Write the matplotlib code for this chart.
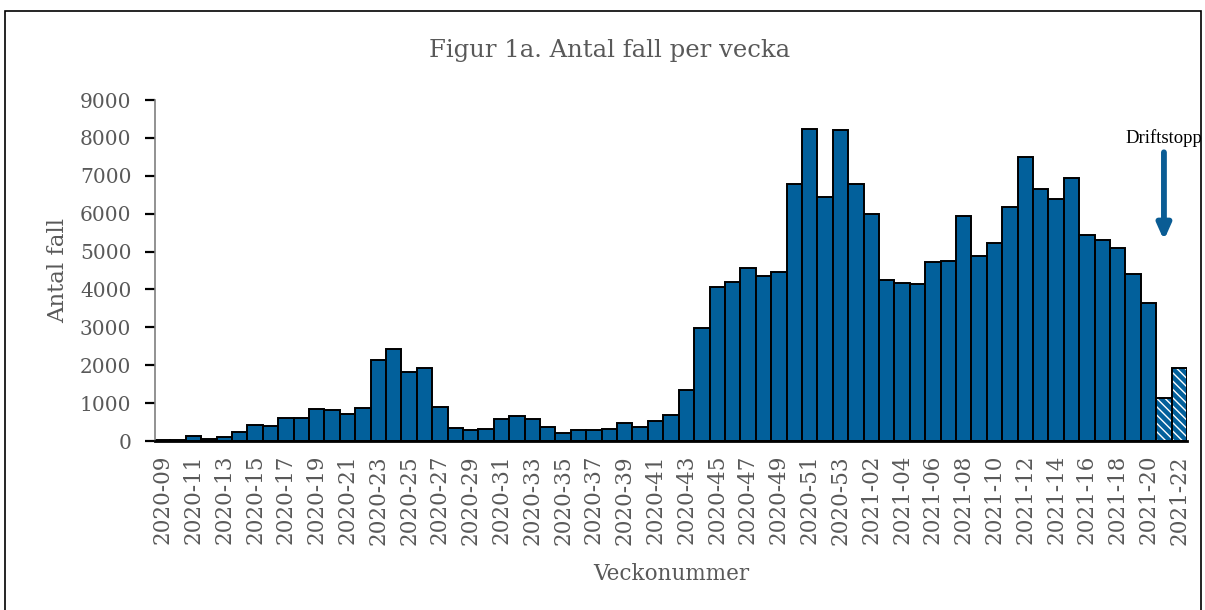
import matplotlib

matplotlib.use("Agg")
import matplotlib.pyplot as plt
from matplotlib.patches import Rectangle

# weekly case counts
weeks_2020 = [f"2020-{w:02d}" for w in range(9, 54)]
weeks_2021 = [f"2021-{w:02d}" for w in range(1, 23)]
weeks = weeks_2020 + weeks_2021

cases_2020 = [
    15, 30, 130, 60, 100, 230, 430, 395, 600, 615,
    840, 815, 720, 860, 2130, 2430, 1820, 1930, 895, 350,
    300, 325, 570, 660, 570, 380, 220, 280, 280, 325,
    480, 380, 525, 700, 1360, 2985, 4055, 4190, 4565, 4365,
    4460, 6790, 8225, 6435, 8210,
]
cases_2021 = [
    6790, 6005, 4260, 4160, 4145, 4715, 4760, 5945, 4890, 5225,
    6170, 7505, 6655, 6375, 6945, 5450, 5295, 5100, 4415, 3635,
    1125, 1940,
]
cases = cases_2020 + cases_2021
n_incomplete = 2  # last weeks affected by the outage

BLUE = "#02609b"
GREY = "#595959"

plt.rcParams["font.family"] = ["DejaVu Serif"]

fig = plt.figure(figsize=(12.05, 6.10), dpi=100)
ax = fig.add_axes([0.1286, 0.277, 0.8565, 0.559])

x = list(range(len(weeks)))
n_full = len(weeks) - n_incomplete
ax.bar(x[:n_full], cases[:n_full], width=1.0, color=BLUE,
       edgecolor="black", linewidth=1.4)
# hatched bars: white stripes first, black outline on top
ax.bar(x[n_full:], cases[n_full:], width=1.0, color=BLUE,
       edgecolor="white", linewidth=0, hatch="\\\\\\\\")
ax.bar(x[n_full:], cases[n_full:], width=1.0, color="none",
       edgecolor="black", linewidth=1.4)

ax.set_xlim(-0.5, len(weeks) - 0.5)
ax.set_ylim(0, 9000)
ax.set_yticks(range(0, 9001, 1000))
ax.set_xticks(x[::2])
ax.set_xticklabels(weeks[::2], rotation=90)

for s in ("top", "right"):
    ax.spines[s].set_visible(False)
ax.spines["left"].set_color("#7f7f7f")
ax.spines["left"].set_linewidth(1.2)
ax.spines["bottom"].set_linewidth(2.0)
ax.tick_params(axis="y", labelsize=14.5, labelcolor=GREY, length=7,
               width=1.6, color="black", pad=10)
ax.tick_params(axis="x", labelsize=15.5, labelcolor=GREY, length=0, pad=10)

ax.set_ylabel("Antal fall", fontsize=16.5, color=GREY, labelpad=8)
ax.set_xlabel("Veckonummer", fontsize=15.5, color=GREY, labelpad=13)
fig.text(0.506, 0.918, "Figur 1a. Antal fall per vecka", ha="center",
         va="center", fontsize=17.5, color=GREY)

# outage marker
xa = len(weeks) - 2
ax.text(xa, 7770, "Driftstopp", ha="center", va="bottom",
        fontsize=13.5, color="black", family=["Liberation Serif"])
ax.annotate("", xy=(xa, 5300), xytext=(xa, 7620),
            arrowprops=dict(arrowstyle="-|>,head_width=0.4,head_length=0.9",
                            color="#0a5c94", lw=4.2, shrinkA=0, shrinkB=0))

fig.patches.append(Rectangle((0.004, -0.01), 0.993, 0.992,
                             transform=fig.transFigure, fill=False,
                             edgecolor="black", linewidth=1.2))

fig.savefig("out.png", dpi=100)
